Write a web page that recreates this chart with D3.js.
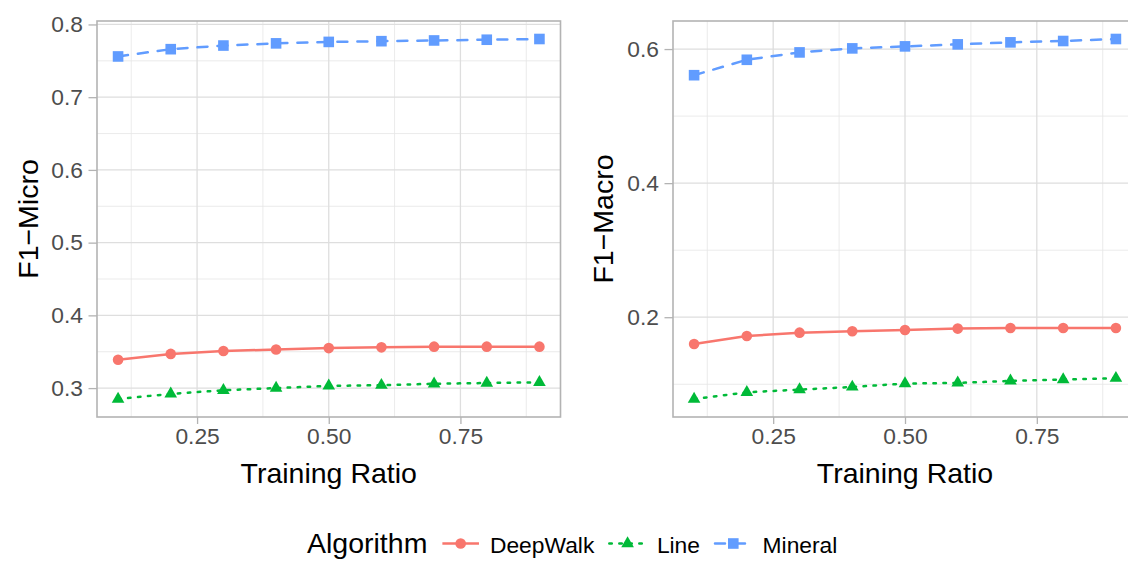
<!DOCTYPE html>
<html>
<head>
<meta charset="utf-8">
<script src="https://cdn.jsdelivr.net/npm/d3@7"></script>
<style>
  html, body { margin: 0; padding: 0; background: #ffffff; }
  svg { display: block; font-family: "Liberation Sans", Arial, Helvetica, sans-serif; }
</style>
</head>
<body>
<svg id="chart" width="1128" height="561"></svg>
<script>
// Training ratios shared by both panels
const ratios = [0.1, 0.2, 0.3, 0.4, 0.5, 0.6, 0.7, 0.8, 0.9];

// F1-Micro scores
const microDeepWalk = [0.339, 0.347, 0.351, 0.353, 0.355, 0.356, 0.357, 0.357, 0.357];
const microLine     = [0.285, 0.292, 0.297, 0.300, 0.303, 0.304, 0.306, 0.307, 0.308];
const microMineral  = [0.756, 0.766, 0.771, 0.774, 0.776, 0.777, 0.778, 0.779, 0.780];

// F1-Macro scores
const macroDeepWalk = [0.160, 0.172, 0.177, 0.179, 0.181, 0.183, 0.184, 0.184, 0.184];
const macroLine     = [0.078, 0.088, 0.092, 0.096, 0.101, 0.102, 0.105, 0.107, 0.109];
const macroMineral  = [0.561, 0.584, 0.595, 0.601, 0.604, 0.607, 0.610, 0.612, 0.615];

// Axis breaks and labels
const xTicks = [0.25, 0.50, 0.75];
const xTickLabels = ["0.25", "0.50", "0.75"];
const microTicks = [0.3, 0.4, 0.5, 0.6, 0.7, 0.8];
const microTickLabels = ["0.3", "0.4", "0.5", "0.6", "0.7", "0.8"];
const macroTicks = [0.2, 0.4, 0.6];
const macroTickLabels = ["0.2", "0.4", "0.6"];

const algorithms = ["DeepWalk", "Line", "Mineral"];
const colors = ["#F8766D", "#00BA38", "#619CFF"];
const shapes = ["circle", "triangle", "square"];
const legendTitle = "Algorithm";
const xTitle = "Training Ratio";

const LW = 2.5;
const dashes = [null, `${LW} ${3 * LW}`, `${4 * LW} ${4 * LW}`];

const svg = d3.select("#chart");

// ggplot-like 5% expansion of a continuous range
function expand(lo, hi) {
  const d = (hi - lo) * 0.05;
  return [lo - d, hi + d];
}

function drawShape(g, shape, cx, cy, color) {
  if (shape === "circle") {
    g.append("circle").attr("cx", cx).attr("cy", cy).attr("r", 5.3).attr("fill", color);
  } else if (shape === "square") {
    const s = 10.6;
    g.append("rect").attr("x", cx - s / 2).attr("y", cy - s / 2)
      .attr("width", s).attr("height", s).attr("fill", color);
  } else {
    const r = 7.3, hw = r * 0.866;
    g.append("path")
      .attr("d", `M${cx},${cy - r}L${cx + hw},${cy + r / 2}L${cx - hw},${cy + r / 2}Z`)
      .attr("fill", color);
  }
}

function panel(opts) {
  const { left, right, top, bottom, series, ticks, tickLabels, title, titleX, labelX } = opts;
  const g = svg.append("g");

  const xDom = expand(d3.min(ratios), d3.max(ratios));
  const allY = series.flat();
  const yDom = expand(d3.min(allY), d3.max(allY));

  const x = d3.scaleLinear().domain(xDom).range([left, right]);
  const y = d3.scaleLinear().domain(yDom).range([bottom, top]);

  const clipId = "clip" + Math.round(left);
  svg.append("clipPath").attr("id", clipId)
    .append("rect").attr("x", left).attr("y", top)
    .attr("width", right - left).attr("height", bottom - top);

  const inner = g.append("g").attr("clip-path", `url(#${clipId})`);

  // minor grid
  const xStep = xTicks[1] - xTicks[0];
  const xMinor = d3.range(xTicks[0] - xStep / 2, xTicks[xTicks.length - 1] + xStep, xStep)
    .filter(v => v > xDom[0] && v < xDom[1]);
  const yStep = ticks[1] - ticks[0];
  const yMinor = d3.range(ticks[0] - yStep / 2, ticks[ticks.length - 1] + yStep, yStep)
    .filter(v => v > yDom[0] && v < yDom[1]);

  inner.selectAll(".xminor").data(xMinor).enter().append("line")
    .attr("x1", d => x(d)).attr("x2", d => x(d)).attr("y1", top).attr("y2", bottom)
    .attr("stroke", "#E6E6E6").attr("stroke-width", 0.8);
  inner.selectAll(".yminor").data(yMinor).enter().append("line")
    .attr("y1", d => y(d)).attr("y2", d => y(d)).attr("x1", left).attr("x2", right)
    .attr("stroke", "#E6E6E6").attr("stroke-width", 0.8);

  // major grid
  inner.selectAll(".xmajor").data(xTicks).enter().append("line")
    .attr("x1", d => x(d)).attr("x2", d => x(d)).attr("y1", top).attr("y2", bottom)
    .attr("stroke", "#DEDEDE").attr("stroke-width", 1.3);
  inner.selectAll(".ymajor").data(ticks).enter().append("line")
    .attr("y1", d => y(d)).attr("y2", d => y(d)).attr("x1", left).attr("x2", right)
    .attr("stroke", "#DEDEDE").attr("stroke-width", 1.3);

  // series lines
  const line = d3.line().x((d, i) => x(ratios[i])).y(d => y(d));
  series.forEach((vals, k) => {
    const p = inner.append("path").datum(vals)
      .attr("d", line)
      .attr("fill", "none")
      .attr("stroke", colors[k])
      .attr("stroke-width", LW)
      .attr("stroke-linecap", dashes[k] ? "round" : "butt")
      .attr("stroke-linejoin", "round");
    if (dashes[k]) p.attr("stroke-dasharray", dashes[k]);
  });

  // points
  series.forEach((vals, k) => {
    vals.forEach((v, i) => drawShape(inner, shapes[k], x(ratios[i]), y(v), colors[k]));
  });

  // panel border
  g.append("rect").attr("x", left).attr("y", top)
    .attr("width", right - left).attr("height", bottom - top)
    .attr("fill", "none").attr("stroke", "#B3B3B3").attr("stroke-width", 1.6);

  // axes
  const yAxis = d3.axisLeft(y).tickValues(ticks).tickFormat((d, i) => tickLabels[i])
    .tickSize(8.5).tickPadding(5.5);
  const ya = g.append("g").attr("transform", `translate(${left},0)`).call(yAxis);
  ya.select(".domain").remove();
  ya.selectAll(".tick line").attr("stroke", "#B3B3B3").attr("stroke-width", 1.3);
  ya.selectAll(".tick text").attr("fill", "#4D4D4D").attr("font-size", 22.8)
    .attr("font-family", "Liberation Sans, Arial, sans-serif");

  const xAxis = d3.axisBottom(x).tickValues(xTicks).tickFormat((d, i) => xTickLabels[i])
    .tickSize(7).tickPadding(4);
  const xa = g.append("g").attr("transform", `translate(0,${bottom})`).call(xAxis);
  xa.select(".domain").remove();
  xa.selectAll(".tick line").attr("stroke", "#B3B3B3").attr("stroke-width", 1.3);
  xa.selectAll(".tick text").attr("fill", "#4D4D4D").attr("font-size", 22.8)
    .attr("font-family", "Liberation Sans, Arial, sans-serif");

  // titles
  g.append("text")
    .attr("transform", `translate(${titleX},${(top + bottom) / 2}) rotate(-90)`)
    .attr("text-anchor", "middle")
    .attr("font-size", 28.5).attr("fill", "#000")
    .text(title);
  g.append("text")
    .attr("x", (left + right) / 2).attr("y", 482.5)
    .attr("text-anchor", "middle")
    .attr("font-size", 28.5).attr("fill", "#000")
    .text(xTitle);
}

panel({
  left: 97, right: 560.5, top: 21, bottom: 417,
  series: [microDeepWalk, microLine, microMineral],
  ticks: microTicks, tickLabels: microTickLabels,
  title: "F1\u2212Micro", titleX: 37.5
});

panel({
  left: 673, right: 1137, top: 21, bottom: 417,
  series: [macroDeepWalk, macroLine, macroMineral],
  ticks: macroTicks, tickLabels: macroTickLabels,
  title: "F1\u2212Macro", titleX: 613
});

// legend
const lg = svg.append("g");
const baseY = 553;
const keyY = 543.5;
let cx = 307;
const t = lg.append("text").attr("x", cx).attr("y", baseY)
  .attr("font-size", 28.5).attr("fill", "#000").text(legendTitle);
cx += t.node().getComputedTextLength() + 15;
algorithms.forEach((name, k) => {
  const kw = 36.6;
  const l = lg.append("line").attr("x1", cx).attr("x2", cx + kw)
    .attr("y1", keyY).attr("y2", keyY)
    .attr("stroke", colors[k]).attr("stroke-width", LW)
    .attr("stroke-linecap", dashes[k] ? "round" : "butt");
  if (dashes[k]) l.attr("stroke-dasharray", dashes[k]);
  drawShape(lg, shapes[k], cx + kw / 2, keyY, colors[k]);
  cx += kw + 11;
  const tt = lg.append("text").attr("x", cx).attr("y", baseY)
    .attr("font-size", 22.8).attr("fill", "#000").text(name);
  cx += tt.node().getComputedTextLength() + 15;
});
</script>
</body>
</html>
